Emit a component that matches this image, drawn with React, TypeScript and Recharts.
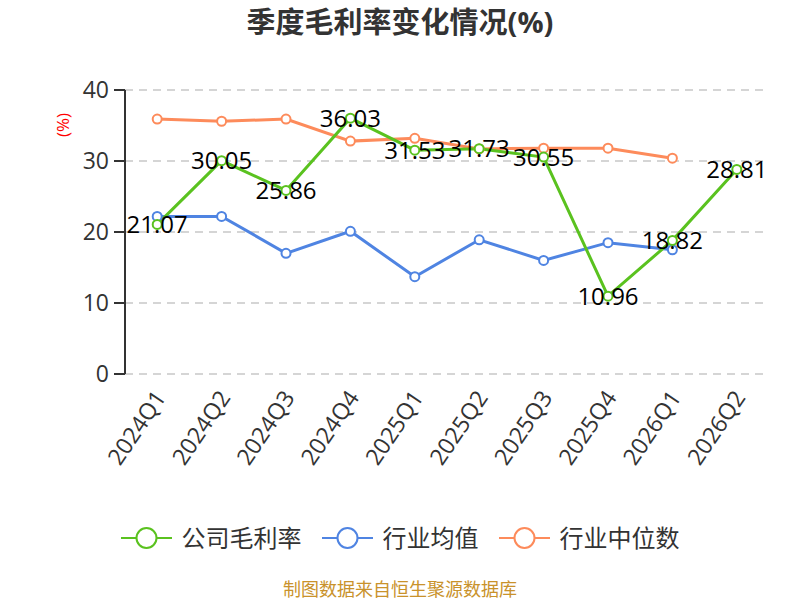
import React from "react";
import { LineChart, Line, XAxis, YAxis, CartesianGrid, Legend } from "recharts";

const quarters = ["2024Q1", "2024Q2", "2024Q3", "2024Q4", "2025Q1", "2025Q2", "2025Q3", "2025Q4", "2026Q1", "2026Q2"];
const companyMargin = [21.07, 30.05, 25.86, 36.03, 31.53, 31.73, 30.55, 10.96, 18.82, 28.81];
const industryAvg = [22.2, 22.2, 17.0, 20.1, 13.7, 18.9, 16.0, 18.5, 17.5, null];
const industryMedian = [35.9, 35.6, 35.9, 32.8, 33.2, 31.7, 31.8, 31.8, 30.4, null];
const yTicks = [0, 10, 20, 30, 40];
const edgeTicks = quarters.map((_, i) => i).concat([quarters.length]);

const seriesNames = ["公司毛利率", "行业均值", "行业中位数"];
const seriesColors = ["#5ac21f", "#4f84e2", "#fd8b5b"];

const data = quarters.map((q, i) => ({
  q,
  company: companyMargin[i],
  avg: industryAvg[i],
  median: industryMedian[i],
}));

const FONT = "'Open Sans', 'Noto Sans CJK SC', sans-serif";

const ValueLabel = (props: any) => {
  const { x, y, value } = props;
  if (value == null) return null;
  return (
    <text x={x} y={y} dy={-1} textAnchor="middle" dominantBaseline="central" fontSize={24} fill="#000" fontFamily={FONT}>
      {value.toFixed(2)}
    </text>
  );
};

const XTick = (props: any) => {
  const { x, y, payload } = props;
  return (
    <g transform={`translate(${x + 3},${y + 11})`}>
      <text textAnchor="end" transform="rotate(-56)" dy="0.35em" fontSize={23} fill="#333" fontFamily={FONT}>
        {payload.value}
      </text>
    </g>
  );
};

const LegendContent = () => (
  <div style={{ display: "flex", justifyContent: "center", alignItems: "center", fontFamily: FONT, fontSize: 24, lineHeight: "30px", color: "#333" }}>
    {seriesNames.map((n, i) => (
      <div key={n} style={{ display: "flex", alignItems: "center", marginRight: i < seriesNames.length - 1 ? 20 : 0 }}>
        <svg width={51} height={24} style={{ marginRight: 10 }}>
          <line x1={0} y1={12} x2={51} y2={12} stroke={seriesColors[i]} strokeWidth={2} />
          <circle cx={25.5} cy={12} r={10} fill="#fff" stroke={seriesColors[i]} strokeWidth={2} />
        </svg>
        <span>{n}</span>
      </div>
    ))}
  </div>
);

export default function App() {
  return (
    <div style={{ position: "absolute", left: 0, top: 0, width: 800, height: 600, background: "#fff", overflow: "hidden" }}>
      <div style={{ position: "absolute", left: 0, top: 2, width: 800, textAlign: "center", fontFamily: FONT, fontWeight: "bold", fontSize: 29, lineHeight: "40px", color: "#333" }}>
        季度毛利率变化情况(%)
      </div>
      <div style={{ position: "absolute", left: 43, top: 114, width: 40, height: 22, lineHeight: "22px", textAlign: "center", transform: "rotate(-90deg)", transformOrigin: "center", color: "red", fontFamily: FONT, fontSize: 17 }}>
        (%)
      </div>
      <LineChart width={800} height={600} data={data} margin={{ top: 90, right: 31, left: 0, bottom: 126 }}>
        <CartesianGrid horizontal vertical={false} stroke="#c8c8c8" strokeDasharray="8 6" strokeWidth={1.5} />
        <XAxis
          xAxisId="edge"
          type="number"
          domain={[0, quarters.length]}
          ticks={edgeTicks}
          tick={false}
          height={0}
          axisLine={{ stroke: "#333", strokeWidth: 2 }}
          tickLine={{ stroke: "#333", strokeWidth: 2 }}
          tickSize={8}
        />
        <XAxis
          xAxisId="cat"
          dataKey="q"
          scale="band"
          interval={0}
          height={100}
          axisLine={false}
          tickLine={false}
          tick={<XTick />}
        />
        <YAxis
          width={125}
          domain={[0, 40]}
          ticks={yTicks}
          axisLine={{ stroke: "#333", strokeWidth: 2 }}
          tickLine={{ stroke: "#333", strokeWidth: 2 }}
          tickSize={11}
          tickMargin={5}
          tick={{ fontSize: 23, fill: "#333", fontFamily: FONT }}
        />
        <Legend verticalAlign="middle" content={<LegendContent />} wrapperStyle={{ top: 523, left: 0, width: 800 }} />
        <Line xAxisId="cat" dataKey="avg" name={seriesNames[1]} stroke={seriesColors[1]} strokeWidth={3} dot={{ r: 4.5, fill: "#fff", stroke: seriesColors[1], strokeWidth: 2 }} isAnimationActive={false} />
        <Line xAxisId="cat" dataKey="median" name={seriesNames[2]} stroke={seriesColors[2]} strokeWidth={3} dot={{ r: 4.5, fill: "#fff", stroke: seriesColors[2], strokeWidth: 2 }} isAnimationActive={false} />
        <Line xAxisId="cat" dataKey="company" name={seriesNames[0]} stroke={seriesColors[0]} strokeWidth={3} dot={{ r: 4.5, fill: "#fff", stroke: seriesColors[0], strokeWidth: 2 }} label={<ValueLabel />} isAnimationActive={false} />
      </LineChart>
      <div style={{ position: "absolute", left: 0, top: 578, width: 800, textAlign: "center", fontFamily: FONT, fontSize: 18, lineHeight: "22px", color: "#c9922b" }}>
        制图数据来自恒生聚源数据库
      </div>
    </div>
  );
}
